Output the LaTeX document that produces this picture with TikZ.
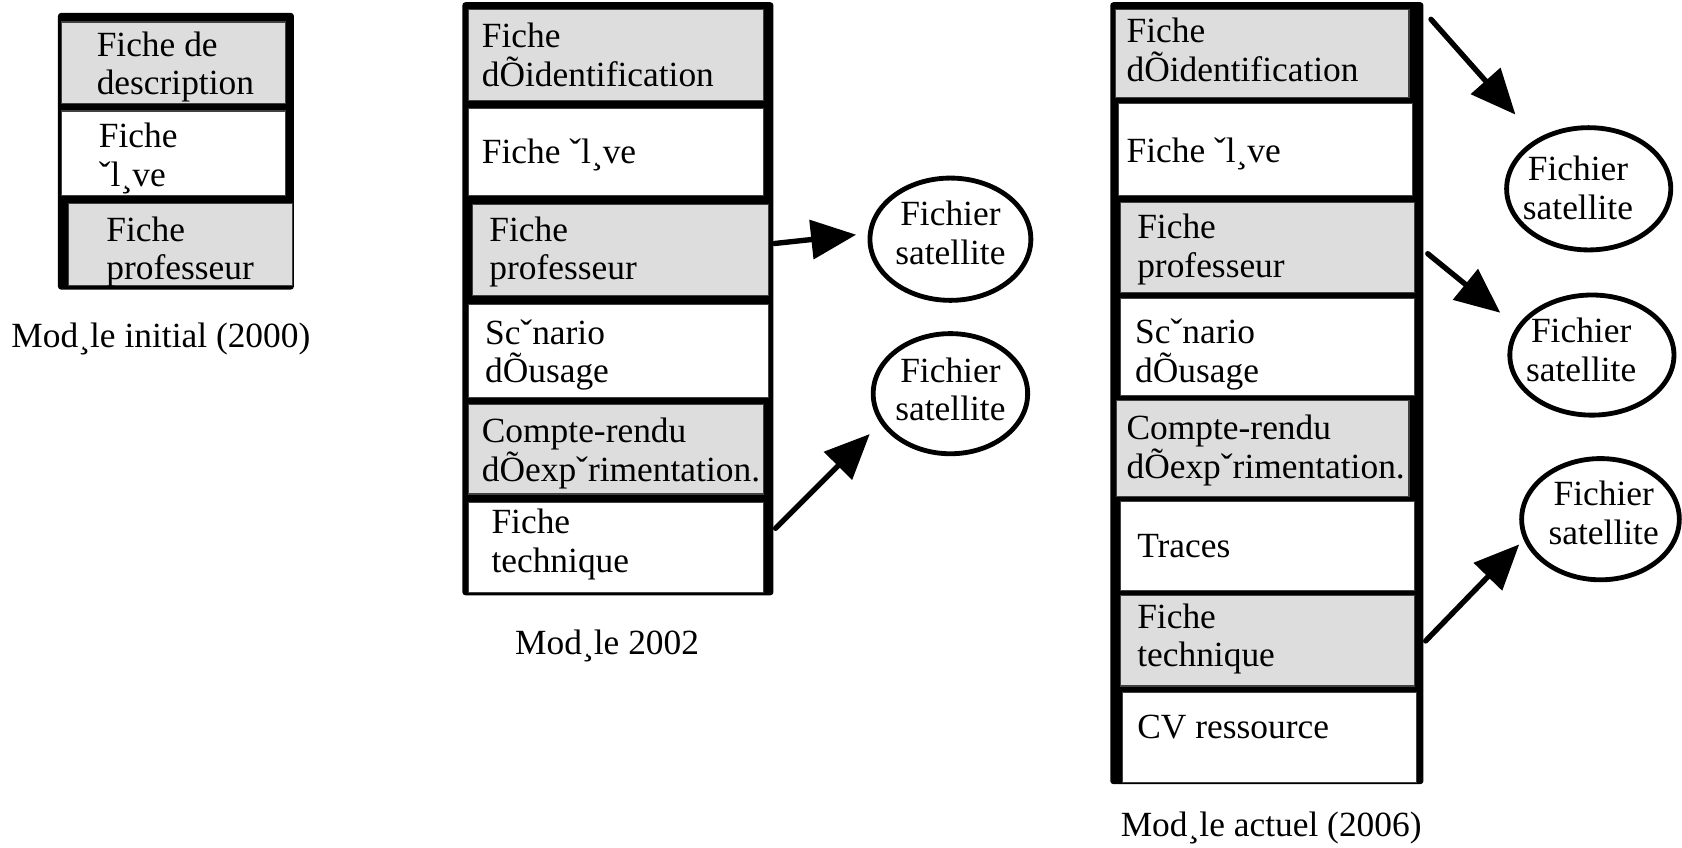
\documentclass[tikz,border=0pt]{standalone}
\usepackage{fontspec}
\setmainfont{Liberation Serif}
\usetikzlibrary{arrows.meta,shapes.geometric}
\definecolor{cellgrey}{RGB}{221,221,221}
\newcommand\figfont{\fontsize{33}{36}\selectfont}
\begin{document}
\begin{tikzpicture}[x=1pt,y=-1pt,
  frame/.style={fill=black,rounded corners=3pt},
  cell/.style={draw=black!75,line width=1pt,anchor=north west,inner sep=0pt},
  greycell/.style={cell,fill=cellgrey},
  whitecell/.style={cell,fill=white},
  celltxt/.style={draw=none,fill=none,anchor=west,align=left,inner sep=0pt,font=\figfont},
  sat/.style={ellipse,draw,line width=4.5pt,inner sep=0pt},
  sattxt/.style={draw=none,anchor=center,align=center,inner sep=0pt,font=\figfont},
  link/.style={line width=5pt,line cap=round,-{Triangle[length=42pt,width=36pt]}},
  caption/.style={anchor=base,inner sep=0pt,font=\figfont}]
\useasboundingbox (0,0) rectangle (1568,790);
% modele initial
\fill[frame] (54,12) rectangle (274,270);
\node[greycell,minimum width=209,minimum height=76,label={[celltxt,xshift=33,yshift=-4]west:Fiche de\\description}] (m1a) at (57,20) {};
\node[whitecell,minimum width=209,minimum height=79,label={[celltxt,xshift=35,yshift=-5]west:Fiche\\ˇl¸ve}] (m1b) at (57,103) {};
\node[greycell,minimum width=209,minimum height=77,label={[celltxt,xshift=36,yshift=-7]west:Fiche\\professeur}] (m1c) at (63,189) {};
\node[caption] (cap1) at (150,324) {Mod¸le initial (2000)};
% modele 2002
\fill[frame] (431,2) rectangle (721,555);
\node[greycell,minimum width=275,minimum height=85,label={[celltxt,xshift=13]west:Fiche\\dÕidentification}] (m2a) at (436,8) {};
\node[whitecell,minimum width=275,minimum height=81,label={[celltxt,xshift=13,yshift=-2]west:Fiche ˇl¸ve}] (m2b) at (436,101) {};
\node[greycell,minimum width=276,minimum height=85,label={[celltxt,xshift=16,yshift=-2]west:Fiche\\professeur}] (m2c) at (440,190) {};
\node[whitecell,minimum width=280,minimum height=87,label={[celltxt,xshift=16,yshift=-4]west:Scˇnario\\dÕusage}] (m2d) at (436,283) {};
\node[greycell,minimum width=275,minimum height=83,label={[celltxt,xshift=13,yshift=-4]west:Compte-rendu\\dÕexpˇrimentation.}] (m2e) at (436,377) {};
\node[whitecell,minimum width=275,minimum height=84,label={[celltxt,xshift=22,yshift=3]west:Fiche\\technique}] (m2f) at (436,468) {};
\node[caption] (cap2) at (566,610) {Mod¸le 2002};
\node[sat,minimum width=150,minimum height=114,label={[sattxt,yshift=6]center:Fichier\\satellite}] (s1) at (886,223) {};
\node[sat,minimum width=144,minimum height=112,label={[sattxt,yshift=4]center:Fichier\\satellite}] (s2) at (886,367) {};
\draw[link,shorten >=11pt] ([shift={(5,-6)}]m2c.east) -- (s1.176);
\draw[link,shorten >=14pt] ([shift={(11,-18)}]m2f.east) -- (s2.203);
% modele actuel
\fill[frame] (1035,2) rectangle (1327,731);
\node[greycell,minimum width=274,minimum height=82,label={[celltxt,xshift=11,yshift=3]west:Fiche\\dÕidentification}] (m3a) at (1039,8) {};
\node[whitecell,minimum width=274,minimum height=86,label={[celltxt,xshift=8,yshift=-4]west:Fiche ˇl¸ve}] (m3b) at (1042,96) {};
\node[greycell,minimum width=274,minimum height=84,label={[celltxt,xshift=16,yshift=-2]west:Fiche\\professeur}] (m3c) at (1044,188) {};
\node[whitecell,minimum width=274,minimum height=90,label={[celltxt,xshift=14,yshift=-7]west:Scˇnario\\dÕusage}] (m3d) at (1044,278) {};
\node[greycell,minimum width=273,minimum height=89,label={[celltxt,xshift=10,yshift=-2]west:Compte-rendu\\dÕexpˇrimentation.}] (m3e) at (1040,373) {};
\node[whitecell,minimum width=274,minimum height=83,label={[celltxt,xshift=16]west:Traces}] (m3f) at (1044,467) {};
\node[greycell,minimum width=274,minimum height=84,label={[celltxt,xshift=16,yshift=2]west:Fiche\\technique}] (m3g) at (1044,555) {};
\node[whitecell,minimum width=274,minimum height=84,label={[celltxt,xshift=14,yshift=10]west:CV ressource}] (m3h) at (1046,645) {};
\node[caption] (cap3) at (1185,780) {Mod¸le actuel (2006)};
\node[sat,minimum width=153,minimum height=114,label={[sattxt,xshift=-10,yshift=1]center:Fichier\\satellite}] (sA) at (1481,176) {};
\node[sat,minimum width=153,minimum height=112,label={[sattxt,xshift=-10,yshift=5]center:Fichier\\satellite}] (sB) at (1484,331) {};
\node[sat,minimum width=147,minimum height=113,label={[sattxt,xshift=3,yshift=6]center:Fichier\\satellite}] (sC) at (1492,484) {};
\draw[link,shorten >=30pt] ([shift={(20,10)}]m3a.north east) -- (sA.136);
\draw[link,shorten >=20pt] ([shift={(12,6)}]m3c.east) -- (sB.159);
\draw[link,shorten >=6pt] ([xshift=10]m3g.east) -- (sC.195);
\end{tikzpicture}
\end{document}
